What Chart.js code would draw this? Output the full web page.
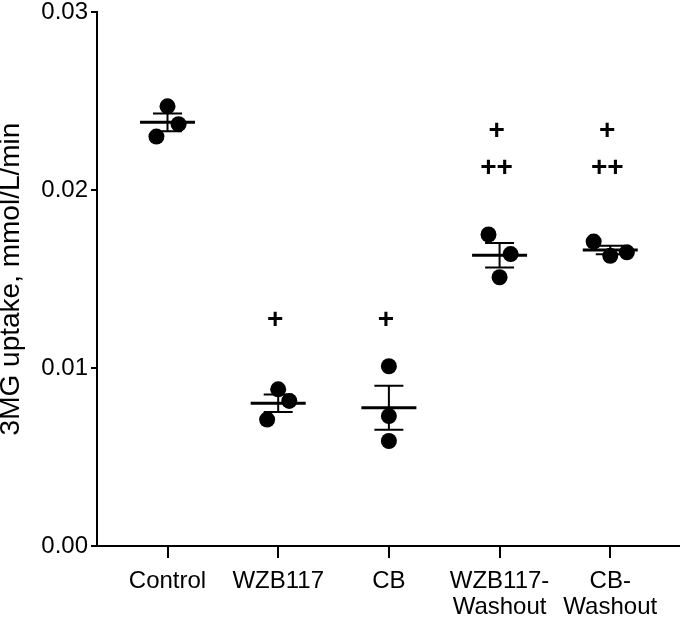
<!DOCTYPE html>
<html>
<head>
<meta charset="utf-8">
<script src="https://cdn.jsdelivr.net/npm/chart.js@4/dist/chart.umd.min.js"></script>
<style>
  html, body { margin: 0; padding: 0; background: #fff; }
  #wrap { width: 680px; height: 620px; }
</style>
</head>
<body>
<div id="wrap"><canvas id="uptakeChart" width="680" height="620"></canvas></div>
<script>
// Valores (3 réplicas por grupo)
const CATEGORIES = ["Control", "WZB117", "CB", "WZB117-Washout", "CB-Washout"];
const CONTROL = [0.0247, 0.0237, 0.0230];
const WZB117 = [0.0088, 0.00815, 0.0071];
const CB = [0.0101, 0.0073, 0.0059];
const WZB117_WASHOUT = [0.0175, 0.0164, 0.0151];
const CB_WASHOUT = [0.0171, 0.0163, 0.0165];
const GROUPS = [CONTROL, WZB117, CB, WZB117_WASHOUT, CB_WASHOUT];

// deslocamento horizontal dos pontos dentro de cada grupo (evita sobreposição)
const JITTER = [[0, 0.1, -0.1], [0, 0.1, -0.1], [0, 0, 0], [-0.1, 0.1, 0], [-0.15, 0, 0.15]];

const Y_TICKS = [0, 0.01, 0.02, 0.03];

// marcas de significância
const SIG_CATEGORY = [1, 2, 3, 3, 4, 4];
const SIG_TEXT = ["+", "+", "+", "++", "+", "++"];
const SIG_VALUE = [0.0127, 0.0127, 0.0233, 0.0212, 0.0233, 0.0212];

const FONT = "'Liberation Sans', Arial, sans-serif";

function media(vals) {
  return vals.reduce((a, b) => a + b, 0) / vals.length;
}

function erroPadrao(vals) {
  const m = media(vals);
  const v = vals.reduce((a, b) => a + (b - m) ** 2, 0) / (vals.length - 1);
  return Math.sqrt(v / vals.length);
}

// linha da média + barras de erro (SEM) e os "+" de significância
const mediaSemPlugin = {
  id: "mediaSem",
  afterDatasetsDraw(chart) {
    const { ctx, scales: { x, y } } = chart;
    ctx.save();
    ctx.strokeStyle = "#000";
    GROUPS.forEach((vals, i) => {
      const m = media(vals);
      const s = erroPadrao(vals);
      const xc = x.getPixelForValue(i);
      const ym = y.getPixelForValue(m);
      const yt = y.getPixelForValue(m + s);
      const yb = y.getPixelForValue(m - s);

      ctx.lineWidth = 2;
      ctx.beginPath();
      ctx.moveTo(xc, yt); ctx.lineTo(xc, yb);
      ctx.moveTo(xc - 14.5, yt); ctx.lineTo(xc + 14.5, yt);
      ctx.moveTo(xc - 14.5, yb); ctx.lineTo(xc + 14.5, yb);
      ctx.stroke();

      ctx.lineWidth = 3;
      ctx.beginPath();
      ctx.moveTo(xc - 27.5, ym); ctx.lineTo(xc + 27.5, ym);
      ctx.stroke();
    });

    ctx.fillStyle = "#000";
    ctx.font = "bold 28px " + FONT;
    ctx.textAlign = "center";
    ctx.textBaseline = "middle";
    SIG_TEXT.forEach((txt, k) => {
      const xc = x.getPixelForValue(SIG_CATEGORY[k]) - 3;
      const yc = y.getPixelForValue(SIG_VALUE[k]);
      ctx.fillText(txt, xc, yc);
    });
    ctx.restore();
  },
};

const pontos = GROUPS.flatMap((vals, i) =>
  vals.map((v, j) => ({ x: i + JITTER[i][j], y: v }))
);

new Chart(document.getElementById("uptakeChart"), {
  type: "scatter",
  data: {
    datasets: [{
      data: pontos,
      backgroundColor: "#000",
      borderWidth: 0,
      pointRadius: 8,
      pointHoverRadius: 8,
    }],
  },
  options: {
    responsive: false,
    animation: false,
    layout: { autoPadding: false, padding: { top: 12, right: 0, left: 0, bottom: 0 } },
    plugins: { legend: { display: false }, tooltip: { enabled: false } },
    scales: {
      x: {
        type: "linear",
        min: -0.637,
        max: 4.63,
        afterBuildTicks: (scale) => {
          scale.ticks = CATEGORIES.map((_, i) => ({ value: i }));
        },
        afterFit: (scale) => {
          scale.height = 74;
          scale.paddingLeft = 0;
          scale.paddingRight = 0;
        },
        grid: {
          display: true,
          drawOnChartArea: false,
          drawTicks: true,
          tickLength: 12,
          color: "#000",
          lineWidth: 2,
        },
        border: { display: true, color: "#000", width: 2 },
        ticks: {
          autoSkip: false,
          maxRotation: 0,
          padding: 10,
          color: "#000",
          font: { family: FONT, size: 24, lineHeight: 1.1 },
          callback: (v) => {
            const nome = CATEGORIES[v];
            return nome.includes("-") ? nome.replace("-", "-\n").split("\n") : nome;
          },
        },
      },
      y: {
        min: 0,
        max: 0.03,
        afterBuildTicks: (scale) => {
          scale.ticks = Y_TICKS.map((v) => ({ value: v }));
        },
        afterFit: (scale) => {
          scale.width = 97;
          scale.paddingTop = 0;
          scale.paddingBottom = 0;
        },
        grid: {
          display: true,
          drawOnChartArea: false,
          drawTicks: true,
          tickLength: 6,
          color: "#000",
          lineWidth: 2,
        },
        border: { display: true, color: "#000", width: 2 },
        ticks: {
          padding: 3,
          color: "#000",
          font: { family: FONT, size: 24 },
          callback: (v) => v.toFixed(2),
        },
        title: {
          display: true,
          text: "3MG uptake, mmol/L/min",
          color: "#000",
          padding: { top: 0, bottom: 0 },
          font: { family: FONT, size: 28, lineHeight: 0.8 },
        },
      },
    },
  },
  plugins: [mediaSemPlugin],
});
</script>
</body>
</html>
